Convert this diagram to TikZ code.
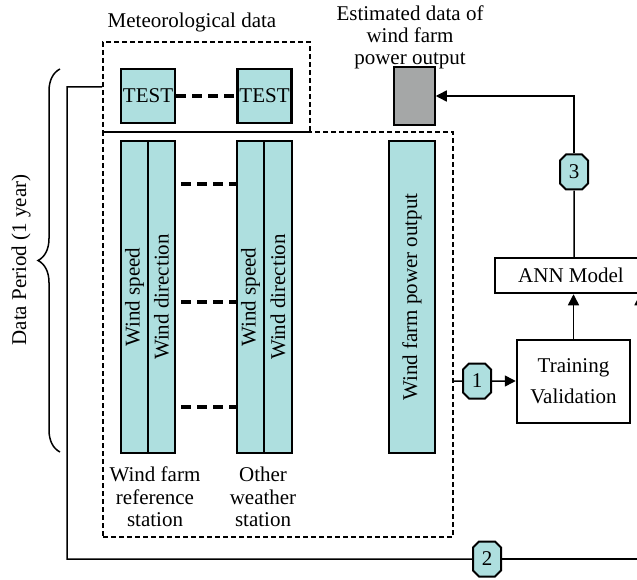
\documentclass[tikz,border=0pt]{standalone}
\usepackage{fontspec}
\setmainfont{Liberation Serif}
\usetikzlibrary{arrows.meta,shapes.misc,decorations.pathreplacing,calc}
\definecolor{teal1}{RGB}{174,223,223}
\definecolor{grey1}{RGB}{165,167,167}
\begin{document}
\begin{tikzpicture}[x=1pt,y=-1pt,
  every node/.style={font=\fontsize{21}{23}\selectfont, inner sep=0pt},
  col/.style={draw, line width=2.5pt, fill=teal1, rotate=90, minimum height=27pt, minimum width=312pt},
  testbox/.style={draw, line width=2.5pt, fill=teal1, minimum width=54pt, minimum height=54pt},
  dbox/.style={draw, dash pattern=on 5pt off 3pt, line width=1.8pt},
  thickdash/.style={line width=3.5pt, dash pattern=on 10pt off 6pt},
  oct/.style={chamfered rectangle, chamfered rectangle xsep=3pt, chamfered rectangle ysep=3pt, draw, line width=2pt, fill=teal1, minimum width=28pt, minimum height=35pt},
  conn/.style={line width=1.5pt},
  arr/.style={conn, -{Triangle[length=11pt,width=11pt]}},
  plainbox/.style={draw, line width=2.5pt, fill=white}
]
\useasboundingbox (0,0) rectangle (637,580);
\clip (0,0) rectangle (637,580);
\fill[white] (0,0) rectangle (637,580);

% dashed groups
\node[dbox, minimum width=207pt, minimum height=90pt] (met) at (206.5,87) {};
\node[dbox, minimum width=350pt, minimum height=405pt] (data) at (278,334.5) {};

% titles
\node (mettitle) at (192,22) {Meteorological data};
\node[align=center, font=\fontsize{21}{22}\selectfont] (esttitle) at (410,37) {Estimated data of\\wind farm\\power output};

% test boxes
\node[testbox] (t1) at (148,96) {TEST};
\node[testbox] (t2) at (264.5,96) {TEST};
\draw[thickdash] (t1.east) -- (t2.west);

% estimated output box
\node[draw, line width=1.5pt, fill=grey1, minimum width=41pt, minimum height=58pt] (grey) at (414.5,96) {};

% columns
\node[col] (ws1) at (134.5,297) {Wind speed};
\node[col] (wd1) at (161.5,297) {Wind direction};
\node[col] (ws2) at (250.5,297) {Wind speed};
\node[col, minimum height=28pt] (wd2) at (278,297) {Wind direction};
\node[col, minimum height=46pt] (pw) at (412,297) {Wind farm power output};

\coordinate (r1) at (0,184);
\coordinate (r2) at (0,302);
\coordinate (r3) at (0,407);
\foreach \r in {r1,r2,r3}{
  \draw[thickdash] ($(wd1.south |- \r)+(5,0)$) -- (ws2.north |- \r);
}

% labels
\node[align=center, font=\fontsize{21}{22.5}\selectfont] (lab1) at (155,497) {Wind farm\\reference\\station};
\node[align=center, font=\fontsize{21}{22.5}\selectfont] (lab2) at (263,497) {Other\\weather\\station};

% right part
\node[plainbox, minimum width=152pt, minimum height=35pt] (ann) at (571,275.5) {ANN Model};
\node[plainbox, minimum width=113pt, minimum height=83pt, align=center, font=\fontsize{21}{31}\selectfont] (train) at (573.5,381.5) {Training\\Validation};

\node[oct] (oct1) at (477,381) {1};
\node[oct] (oct2) at (487,559) {2};
\node[oct] (oct3) at (574,172) {3};

\draw[conn] (data.east |- oct1) -- (oct1);
\draw[arr] (oct1) -- (train.west |- oct1);
\draw[arr] (train.north) -- (train.north |- ann.south);
\draw[conn] (oct3 |- ann.north) -- (oct3);
\draw[arr] (oct3) |- (grey.east);

\coordinate (fbx) at (67,0);
\coordinate (rx) at (640,0);
\draw[conn] (met.west) -| (fbx |- oct2) -- (oct2);
\draw[arr] (oct2) -| (rx |- ann.south);

% brace
\draw[line width=1.5pt, decorate, decoration={brace, amplitude=22pt}] (60,452) -- (60,69);
\node[rotate=90] (dp) at (21,260) {Data Period (1 year)};
\end{tikzpicture}
\end{document}
